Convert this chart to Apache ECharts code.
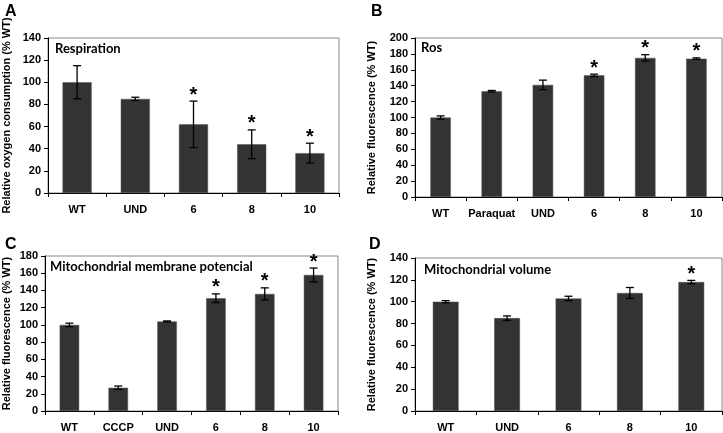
<!DOCTYPE html>
<html>
<head>
<meta charset="utf-8">
<script src="https://cdn.jsdelivr.net/npm/echarts@6/dist/echarts.min.js"></script>
<style>
  html, body { margin: 0; padding: 0; background: #fff; }
  #chart { width: 723px; height: 433px; }
</style>
</head>
<body>
<div id="chart"></div>
<script>
// panel A - respiration
const catsA = ['WT', 'UND', '6', '8', '10'];
const meanA = [100, 85, 62, 44, 36];
const errA = [15, 1.5, 21, 13, 9];
const starA = [0, 0, 1, 1, 1];

// panel B - ros
const catsB = ['WT', 'Paraquat', 'UND', '6', '8', '10'];
const meanB = [100, 133, 141, 153, 175, 174];
const errB = [2, 1, 6, 1.5, 4, 1];
const starB = [0, 0, 0, 1, 1, 1];

// panel C - membrane potential
const catsC = ['WT', 'CCCP', 'UND', '6', '8', '10'];
const meanC = [100, 27, 104, 131, 136, 158];
const errC = [2, 2, 0.6, 5, 7, 8];
const starC = [0, 0, 0, 1, 1, 1];

// panel D - mitochondrial volume
const catsD = ['WT', 'UND', '6', '8', '10'];
const meanD = [100, 85, 103, 108, 118];
const errD = [1, 2, 2, 5, 1.5];
const starD = [0, 0, 0, 0, 1];

const yMaxes = [140, 200, 180, 140];
const yTitles = [
    'Relative oxygen consumption (% WT)',
    'Relative fluorescence (% WT)',
    'Relative fluorescence (% WT)',
    'Relative fluorescence (% WT)'
];

const chart = echarts.init(document.getElementById('chart'));

const panels = [
    { cats: catsA, mean: meanA, err: errA, star: starA, barW: '50%', gap: 36 },
    { cats: catsB, mean: meanB, err: errB, star: starB, barW: '40%', gap: 38 },
    { cats: catsC, mean: meanC, err: errC, star: starC, barW: '40%', gap: 33 },
    { cats: catsD, mean: meanD, err: errD, star: starD, barW: '42%', gap: 38 }
];

const grids = [
    { left: 46, top: 38, width: 293, height: 155 },
    { left: 415, top: 38, width: 307, height: 159 },
    { left: 43, top: 256, width: 295, height: 157 },
    { left: 415, top: 258, width: 307, height: 155 }
];

const boldFont = { fontFamily: 'Liberation Sans', fontWeight: 'bold', fontSize: 11, color: '#000' };

function errorBars(params, api) {
    const lo = api.coord([api.value(0), api.value(1)]);
    const hi = api.coord([api.value(0), api.value(2)]);
    const cap = 4;
    const style = { stroke: '#000', lineWidth: 1.3 };
    const children = [
        { type: 'line', shape: { x1: lo[0], y1: lo[1], x2: hi[0], y2: hi[1] }, style: style },
        { type: 'line', shape: { x1: lo[0] - cap, y1: lo[1], x2: lo[0] + cap, y2: lo[1] }, style: style },
        { type: 'line', shape: { x1: hi[0] - cap, y1: hi[1], x2: hi[0] + cap, y2: hi[1] }, style: style }
    ];
    if (api.value(3)) {
        children.push({
            type: 'text',
            style: {
                text: '*', x: hi[0], y: hi[1] + 4,
                align: 'center', verticalAlign: 'bottom',
                font: 'bold 20px "Liberation Sans"', fill: '#000'
            }
        });
    }
    return { type: 'group', children: children };
}

const option = {
    animation: false,
    backgroundColor: '#fff',
    grid: grids.map(g => Object.assign({ show: true, borderColor: '#888', borderWidth: 1 }, g)),
    xAxis: panels.map((p, i) => ({
        type: 'category',
        gridIndex: i,
        data: p.cats,
        axisLine: { lineStyle: { color: '#000', width: 1 } },
        axisTick: { show: true, length: 4, lineStyle: { color: '#000' } },
        axisLabel: Object.assign({ margin: 11, interval: 0 }, boldFont)
    })),
    yAxis: panels.map((p, i) => ({
        type: 'value',
        gridIndex: i,
        min: 0,
        max: yMaxes[i],
        interval: 20,
        name: yTitles[i],
        nameLocation: 'middle',
        nameGap: p.gap,
        nameTextStyle: boldFont,
        splitLine: { show: false },
        axisLine: { show: true, lineStyle: { color: '#000', width: 1 } },
        axisTick: { show: true, length: 4, lineStyle: { color: '#000' } },
        axisLabel: Object.assign({ margin: 7 }, boldFont)
    })),
    series: [],
    graphic: []
};

panels.forEach((p, i) => {
    option.series.push({
        type: 'bar',
        xAxisIndex: i,
        yAxisIndex: i,
        data: p.mean,
        barWidth: p.barW,
        itemStyle: { color: '#333333', borderColor: '#555', borderWidth: 0.5 }
    });
    option.series.push({
        type: 'custom',
        xAxisIndex: i,
        yAxisIndex: i,
        renderItem: errorBars,
        encode: { x: 0, y: [1, 2] },
        data: p.mean.map((m, k) => [k, m - p.err[k], m + p.err[k], p.star[k]]),
        z: 5
    });
});

// panel letters and inner titles
const letters = [['A', 5, 4], ['B', 371, 4], ['C', 5, 237], ['D', 369, 237]];
letters.forEach(l => option.graphic.push({
    type: 'text', left: l[1], top: l[2],
    style: { text: l[0], font: 'bold 16px "Liberation Sans"', fill: '#000' }
}));
const innerTitles = [['Respiration', 55, 42], ['Ros', 421, 41], ['Mitochondrial membrane potencial', 50, 260], ['Mitochondrial volume', 424, 263]];
innerTitles.forEach(t => option.graphic.push({
    type: 'text', left: t[1], top: t[2],
    style: { text: t[0], font: 'bold 13px Lato', fill: '#000' }
}));

chart.setOption(option);
</script>
</body>
</html>
